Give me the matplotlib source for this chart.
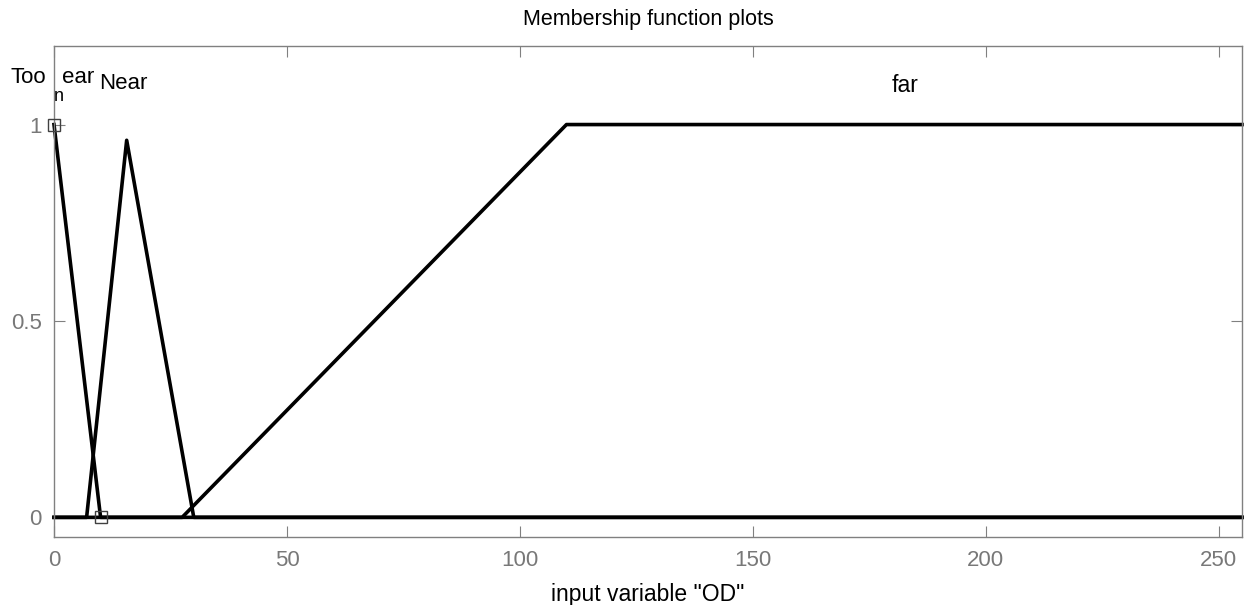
import matplotlib
matplotlib.use('Agg')
import matplotlib.pyplot as plt

plt.rcParams['font.family'] = ['Liberation Sans', 'DejaVu Sans']

# membership function vertices (input variable "OD")
too_near_x = [0, 10, 255]
too_near_y = [1, 0, 0]
near_x = [0, 7, 15.6, 30, 255]
near_y = [0, 0, 0.96, 0, 0]
far_x = [0, 27.5, 110, 255]
far_y = [0, 0, 1, 1]

# selected-MF markers
mark_x = [0, 10]
mark_y = [1, 0]

x_ticks = [0, 50, 100, 150, 200, 250]
y_ticks = [0, 0.5, 1]
y_tick_labels = ['0', '0.5', '1']

grey = '#808080'

fig = plt.figure(figsize=(12.44, 6.05), dpi=100)
ax = fig.add_axes([54 / 1244, 1 - 537 / 605, (1242 - 54) / 1244, (537 - 46) / 605])

for xs, ys in [(too_near_x, too_near_y), (near_x, near_y), (far_x, far_y)]:
    ax.plot(xs, ys, color='black', linewidth=2.6, solid_joinstyle='round',
            clip_on=False)
ax.plot(mark_x, mark_y, linestyle='None', marker='s', markersize=8.5,
        markerfacecolor='none', markeredgecolor='#404040', markeredgewidth=1,
        clip_on=False, zorder=5)

ax.set_xlim(0, 255)
ax.set_ylim(-0.05, 1.2)
ax.set_xticks(x_ticks)
ax.set_yticks(y_ticks)
ax.set_yticklabels(y_tick_labels)
ax.tick_params(direction='in', length=8, width=0.8, color=grey,
               labelcolor='#787878', labelsize=16, top=True, right=True,
               pad=9)
for sp in ax.spines.values():
    sp.set_color(grey)
    sp.set_linewidth(1)

ax.set_title('Membership function plots', fontsize=15.5, pad=15)
ax.set_xlabel('input variable "OD"', fontsize=16.5, labelpad=9)

# MF labels (as rendered in the reference)
ax.text(-9.4, 1.12, 'Too', fontsize=16, ha='left', va='center')
ax.text(-0.1, 1.072, 'n', fontsize=13, ha='left', va='center')
ax.text(1.7, 1.12, 'ear', fontsize=16, ha='left', va='center')
ax.text(9.6, 1.105, 'Near', fontsize=16, ha='left', va='center')
ax.text(179.9, 1.10, 'far', fontsize=16.5, ha='left', va='center')

fig.savefig('out.png', dpi=100)
